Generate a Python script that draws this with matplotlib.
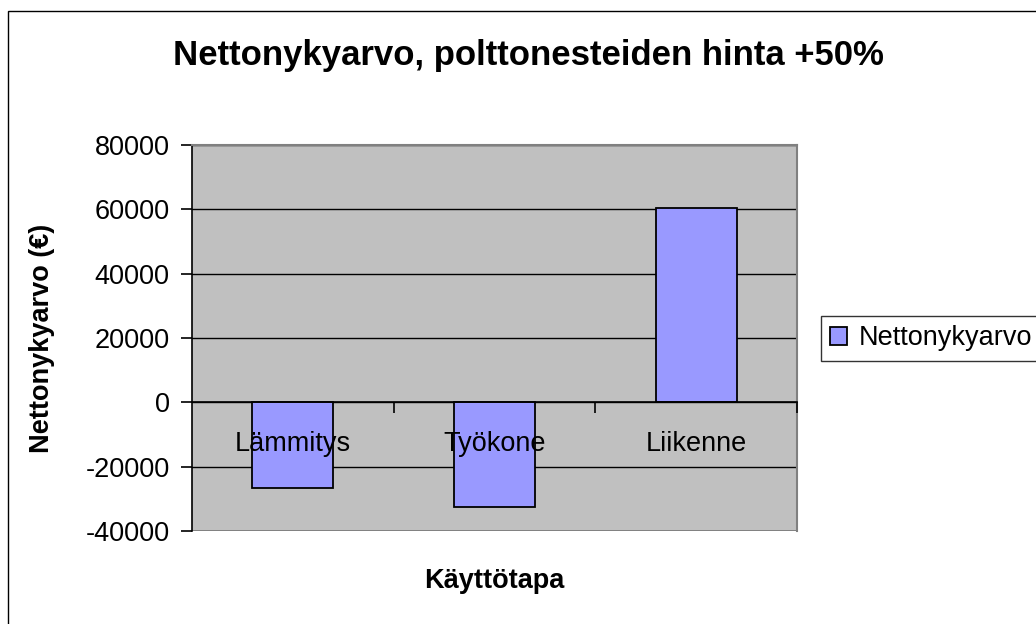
import matplotlib
matplotlib.use("Agg")
import matplotlib.pyplot as plt
from matplotlib.patches import Rectangle
from matplotlib.ticker import FixedLocator, NullFormatter

categories = ["Lämmitys", "Työkone", "Liikenne"]
values = [-26700, -32600, 60500]
series_name = "Nettonykyarvo"
yticks = [-40000, -20000, 0, 20000, 40000, 60000, 80000]

plt.rcParams['font.family'] = ['Liberation Sans', 'DejaVu Sans']

fig = plt.figure(figsize=(10.36, 6.24), dpi=100)
fig.patch.set_facecolor('white')

# outer chart frame
fig.patches.append(Rectangle((8/1036, -0.1), 1.2, 1 - 11/624 + 0.1,
                             transform=fig.transFigure, fill=False,
                             edgecolor='black', linewidth=1.0))

ax = fig.add_axes([192/1036, 1 - 531/624, 605/1036, 386/624])
ax.set_facecolor('#C0C0C0')

x = list(range(len(categories)))
bars = ax.bar(x, values, width=0.4, color='#9999FF', edgecolor='black',
              linewidth=1.3, label=series_name, zorder=3)

ax.set_xlim(-0.5, 2.5)
ax.set_ylim(-40000, 80000)
ax.set_yticks(yticks)
ax.set_yticklabels([str(v) for v in yticks], fontsize=19.5)
ax.yaxis.grid(True, color='black', linewidth=1.0)
ax.yaxis.set_zorder(0.5)
ax.xaxis.set_zorder(5)

# category axis at zero
ax.spines['bottom'].set_position(('data', 0))
ax.spines['bottom'].set_color('black')
ax.spines['bottom'].set_linewidth(1.2)
ax.spines['bottom'].set_zorder(4)
ax.spines['left'].set_color('black')
ax.spines['left'].set_linewidth(1.2)
for s in ['top', 'right']:
    ax.spines[s].set_color('#808080')
    ax.spines[s].set_linewidth(1.5)
ax.axhline(-40000, color='#808080', linewidth=2.0, zorder=2)

ax.set_xticks(x)
ax.set_xticklabels(categories, fontsize=19.5)
ax.tick_params(axis='x', which='major', length=0, pad=21)
ax.xaxis.set_minor_locator(FixedLocator([0.5, 1.5, 2.5]))
ax.xaxis.set_minor_formatter(NullFormatter())
ax.tick_params(axis='x', which='minor', length=8, width=1.2, direction='out', color='black')
ax.tick_params(axis='y', length=8, width=1.2, direction='out', pad=8)

ax.set_ylabel("Nettonykyarvo (€)", fontsize=19.5, fontweight='bold', labelpad=22)
fig.text(494.5/1036, 1 - 581/624, "Käyttötapa", fontsize=19.5, fontweight='bold',
         ha='center', va='center')
fig.text(528/1036, 1 - 56/624, "Nettonykyarvo, polttonesteiden hinta +50%",
         fontsize=25, fontweight='bold', ha='center', va='center')

leg = ax.legend(loc='upper left', bbox_to_anchor=(821/1036, 1 - 316/624),
                bbox_transform=fig.transFigure, fontsize=19.5, frameon=True,
                fancybox=False, edgecolor='black', borderaxespad=0,
                handlelength=0.6, handleheight=0.6, handletextpad=0.45,
                borderpad=0.35)
leg.get_frame().set_linewidth(1.0)

fig.savefig("out.png", dpi=100)
